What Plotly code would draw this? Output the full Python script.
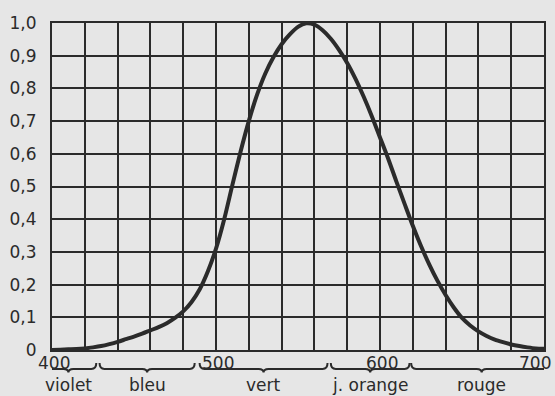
import plotly.graph_objects as go

# longueur d'onde (nm) et efficacite lumineuse relative
wavelength = [400, 405, 410, 415, 420, 425, 430, 435, 440, 445,
              450, 455, 460, 465, 470, 475, 480, 485, 490, 495,
              500, 505, 510, 515, 520, 525, 530, 535, 540, 545,
              550, 555, 560, 565, 570, 575, 580, 585, 590, 595,
              600, 605, 610, 615, 620, 625, 630, 635, 640, 645,
              650, 655, 660, 665, 670, 675, 680, 685, 690, 695, 700]
efficiency = [0.0, 0.001, 0.002, 0.003, 0.005, 0.008, 0.012, 0.018, 0.025, 0.033,
              0.041, 0.05, 0.06, 0.07, 0.082, 0.098, 0.118, 0.146, 0.185, 0.24,
              0.31, 0.40, 0.505, 0.607, 0.70, 0.78, 0.845, 0.895, 0.935, 0.965,
              0.988, 0.999, 0.995, 0.978, 0.952, 0.918, 0.878, 0.83, 0.775, 0.715,
              0.65, 0.585, 0.515, 0.447, 0.38, 0.318, 0.262, 0.212, 0.168, 0.13,
              0.098, 0.075, 0.057, 0.043, 0.032, 0.024, 0.017, 0.012, 0.008, 0.005, 0.004]

y_ticks = [0, 0.1, 0.2, 0.3, 0.4, 0.5, 0.6, 0.7, 0.8, 0.9, 1.0]
y_labels = ["0", "0,1", "0,2", "0,3", "0,4", "0,5", "0,6", "0,7", "0,8", "0,9", "1,0"]
x_labels = [400, 500, 600, 700]

band_names = ["violet", "bleu", "vert", "j. orange", "rouge"]
band_start = [393, 429, 490, 570, 619]
band_end = [427, 487, 568, 618, 705]

INK = "#2b2b2b"
FONT = "DejaVu Sans"

fig = go.Figure()

fig.add_trace(
    go.Scatter(
        x=wavelength,
        y=efficiency,
        mode="lines",
        line=dict(color=INK, width=4, shape="spline", smoothing=0.8),
        showlegend=False,
        hoverinfo="skip"
    )
)

# accolades sous l'axe
y_tip, y_line, y_dip = -0.040, -0.058, -0.069
for a, b in zip(band_start, band_end):
    m = (a + b) / 2
    r = 3
    path = (f"M {a},{y_tip} Q {a},{y_line} {a + r},{y_line} "
            f"L {m - r},{y_line} Q {m},{y_line} {m},{y_dip} "
            f"Q {m},{y_line} {m + r},{y_line} "
            f"L {b - r},{y_line} Q {b},{y_line} {b},{y_tip}")
    fig.add_shape(type="path", path=path, xref="x", yref="paper",
                  line=dict(color=INK, width=2))

for name, a, b in zip(band_names, band_start, band_end):
    fig.add_annotation(x=(a + b) / 2, y=-0.070, xref="x", yref="paper",
                       text=name, showarrow=False, yanchor="top",
                       font=dict(family=FONT, size=17, color=INK))

for v in x_labels:
    fig.add_annotation(x=v, y=-0.004, xref="x", yref="paper",
                       text=str(v), showarrow=False, yanchor="top",
                       xshift=-9 if v == 700 else 2,
                       font=dict(family=FONT, size=17, color=INK))

fig.update_xaxes(
    range=[400, 700],
    tick0=400,
    dtick=20,
    showticklabels=False,
    showgrid=True,
    gridcolor=INK,
    gridwidth=1.6,
    showline=True,
    linecolor=INK,
    linewidth=2,
    mirror=True,
    zeroline=False
)

fig.update_yaxes(
    range=[0, 1.0],
    tickvals=y_ticks,
    ticktext=y_labels,
    showgrid=True,
    gridcolor=INK,
    gridwidth=1.6,
    showline=True,
    linecolor=INK,
    linewidth=2,
    mirror=True,
    zeroline=False,
    ticklabelstandoff=10,
    tickfont=dict(family=FONT, size=17, color=INK)
)

fig.update_layout(
    width=555,
    height=396,
    margin=dict(l=52, r=9, t=23, b=46),
    paper_bgcolor="#e6e6e6",
    plot_bgcolor="#e6e6e6",
    showlegend=False
)

fig.write_html("out.html", config={"displayModeBar": False},
               post_script="document.body.style.margin='0';")
